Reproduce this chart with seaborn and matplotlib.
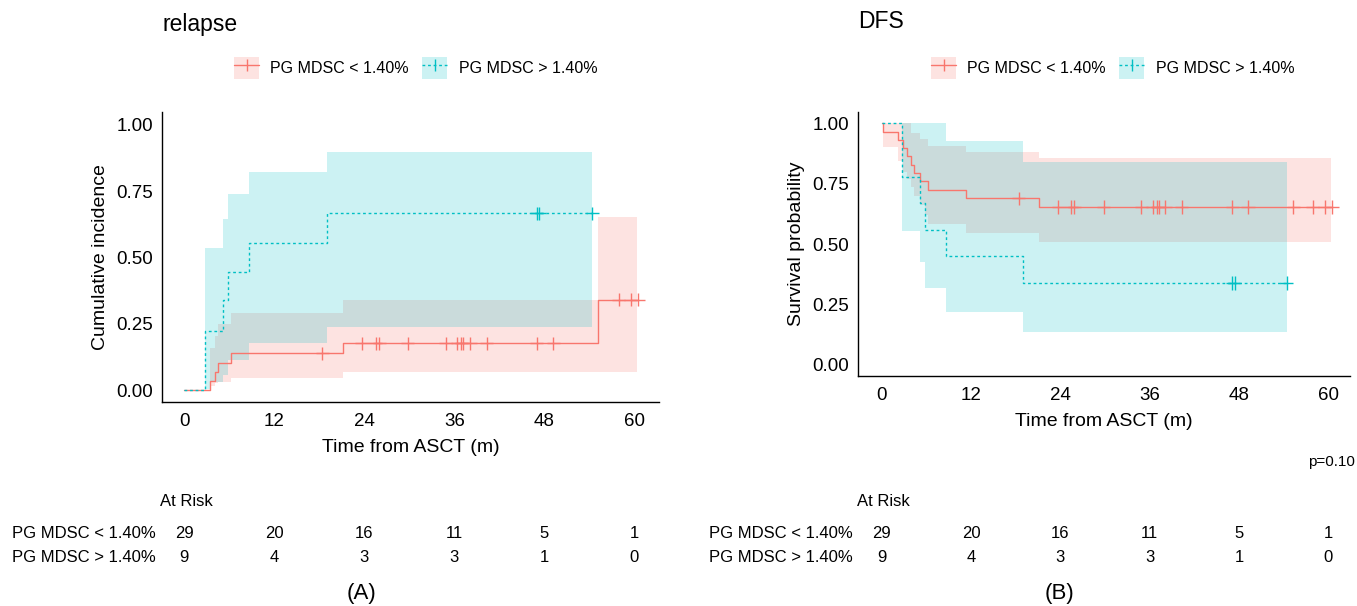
import numpy as np
import pandas as pd
import matplotlib
matplotlib.use("Agg")
import matplotlib.pyplot as plt
import matplotlib.transforms as mtransforms
from matplotlib.patches import Patch
from matplotlib.lines import Line2D
import seaborn as sns

# ---- data ----
groups = ["PG MDSC < 1.40%", "PG MDSC > 1.40%"]
colors = ["#F8766D", "#00BFC4"]

# (A) relapse, cumulative incidence
rel_low_time = [0, 3.4, 4.1, 4.5, 6.2, 21.2, 55.2, 60.5]
rel_low_est = [0, 0.035, 0.069, 0.104, 0.139, 0.176, 0.341, 0.341]
rel_low_cens = [18.4, 23.7, 25.5, 26.0, 29.8, 34.9, 36.4, 36.9, 37.1, 38.1,
                40.3, 47.0, 49.2, 57.9, 59.5, 60.5]
rel_low_band_t = [3.4, 4.1, 4.5, 6.2, 21.2, 55.2, 60.4]
rel_low_upper = [0.157, 0.205, 0.249, 0.292, 0.340, 0.654, 0.654]
rel_low_lower = [0.015, 0.025, 0.031, 0.044, 0.069, 0.069, 0.069]

rel_high_time = [0, 2.76, 5.2, 5.88, 8.68, 19.0, 54.4]
rel_high_est = [0, 0.224, 0.34, 0.446, 0.553, 0.667, 0.667]
rel_high_cens = [47.0, 47.3, 54.4]
rel_high_band_t = [2.76, 3.43, 5.2, 5.88, 8.68, 19.0, 54.4]
rel_high_upper = [0.535, 0.535, 0.645, 0.738, 0.824, 0.897, 0.897]
rel_high_lower = [0.005, 0.031, 0.057, 0.115, 0.178, 0.239, 0.239]

# (B) DFS, survival probability
dfs_low_time = [0, 0.22, 2.23, 2.81, 3.35, 4.01, 4.37, 5.13, 6.24, 11.28, 21.2, 60.5]
dfs_low_est = [1, 0.966, 0.931, 0.899, 0.864, 0.827, 0.793, 0.761, 0.726, 0.690,
               0.654, 0.654]
dfs_low_cens = [18.4, 23.7, 25.5, 25.9, 29.8, 34.9, 36.4, 37.0, 37.2, 38.1, 40.3,
                47.1, 49.2, 55.3, 57.9, 59.5, 60.5]
dfs_low_band_t = [0, 0.22, 2.23, 2.81, 3.35, 4.01, 4.37, 5.13, 5.8, 6.24, 11.28,
                  21.2, 60.4]
dfs_low_upper = [1, 1, 1, 1, 1, 0.961, 0.961, 0.934, 0.934, 0.906, 0.882, 0.855, 0.855]
dfs_low_lower = [1, 0.902, 0.846, 0.80, 0.77, 0.735, 0.70, 0.662, 0.622, 0.585,
                 0.546, 0.508, 0.508]

dfs_high_time = [0, 2.77, 5.22, 5.89, 8.70, 19.0, 54.4]
dfs_high_est = [1, 0.777, 0.671, 0.557, 0.449, 0.339, 0.339]
dfs_high_cens = [47.1, 47.4, 54.4]
dfs_high_band_t = [2.77, 5.22, 5.89, 8.6, 19.0, 54.4]
dfs_high_upper = [1, 1, 1, 0.927, 0.841, 0.841]
dfs_high_lower = [0.553, 0.426, 0.318, 0.221, 0.138, 0.138]

risk_times = [0, 12, 24, 36, 48, 60]
risk_low = [29, 20, 16, 11, 5, 1]
risk_high = [9, 4, 3, 3, 1, 0]

x_ticks = [0, 12, 24, 36, 48, 60]
y_ticks = [0, 0.25, 0.5, 0.75, 1.0]

sns.set_style("white")
plt.rcParams["font.family"] = ["Liberation Sans", "DejaVu Sans"]
plt.rcParams["text.color"] = "black"
plt.rcParams["axes.labelcolor"] = "black"

W, H = 1357, 606
fig = plt.figure(figsize=(W / 100, H / 100), dpi=100)


def fx(px):
    return px / W


def fy(py):
    return 1 - py / H


def step_value(times, vals, t):
    i = np.searchsorted(times, t, side="right") - 1
    return vals[i]


def draw_panel(ax, curves, bands, censors, xlim, ylim, ylabel):
    for (bt, lo, hi), c in zip(bands, colors):
        ax.fill_between(bt, lo, hi, step="post", color=c, alpha=0.2, lw=0)
    frames = []
    for g, (t, v) in zip(groups, curves):
        frames.append(pd.DataFrame({"time": t, "est": v, "group": g}))
    df = pd.concat(frames, ignore_index=True)
    sns.lineplot(data=df, x="time", y="est", hue="group", style="group",
                 hue_order=groups, style_order=groups,
                 palette=dict(zip(groups, colors)),
                 dashes={groups[0]: "", groups[1]: (2, 2)},
                 estimator=None, drawstyle="steps-post", linewidth=1.0,
                 legend=False, ax=ax)
    cframes = []
    for g, (t, v), cens in zip(groups, curves, censors):
        yv = [step_value(np.array(t), np.array(v), ct) for ct in cens]
        cframes.append(pd.DataFrame({"time": cens, "est": yv, "group": g}))
    cdf = pd.concat(cframes, ignore_index=True)
    sns.scatterplot(data=cdf, x="time", y="est", hue="group", hue_order=groups,
                    palette=dict(zip(groups, colors)), marker="+", s=90,
                    linewidth=1.0, legend=False, ax=ax)
    ax.set_xlim(*xlim)
    ax.set_ylim(*ylim)
    ax.set_xticks(x_ticks)
    ax.set_yticks(y_ticks)
    ax.set_yticklabels([f"{v:.2f}" for v in y_ticks])
    ax.set_xlabel("Time from ASCT (m)", fontsize=14, labelpad=7)
    ax.set_ylabel(ylabel, fontsize=14, labelpad=5)
    sns.despine(ax=ax)
    for s in ["left", "bottom"]:
        ax.spines[s].set_linewidth(1.0)
        ax.spines[s].set_color("black")
    ax.tick_params(axis="both", labelsize=13.5, length=3.6, width=0.8,
                   color="#333333", labelcolor="black", pad=3)
    ax.tick_params(axis="x", pad=4)


def draw_legend(cx, cy):
    handles = []
    for i, c in enumerate(colors):
        patch = Patch(facecolor=c, alpha=0.2, edgecolor="none")
        line = Line2D([], [], color=c, lw=1.0, linestyle="-" if i == 0 else (0, (2, 2)),
                      marker="|", markersize=9, markeredgewidth=1.0)
        handles.append((patch, line))
    fig.legend(handles, groups, loc="center", bbox_to_anchor=(fx(cx), fy(cy)),
               ncol=2, frameon=False, fontsize=11.5, handlelength=1.6,
               handleheight=1.7, handletextpad=0.7, columnspacing=0.8)


def draw_risk(ax, label_x, atrisk_x):
    blend = mtransforms.blended_transform_factory(ax.transData, fig.transFigure)
    fig.text(fx(atrisk_x), fy(502), "At Risk", fontsize=12, va="center", ha="left")
    for row_y, g, counts in [(533, groups[0], risk_low), (557, groups[1], risk_high)]:
        fig.text(fx(label_x), fy(row_y), g, fontsize=12, va="center", ha="left")
        for t, n in zip(risk_times, counts):
            ax.text(t, fy(row_y), str(n), transform=blend, fontsize=12,
                    ha="center", va="center")


# (A) relapse
ax1 = fig.add_axes([fx(162), fy(402), fx(659 - 162), (402 - 112) / H])
draw_panel(ax1,
           [(rel_low_time, rel_low_est), (rel_high_time, rel_high_est)],
           [(rel_low_band_t, rel_low_lower, rel_low_upper),
            (rel_high_band_t, rel_high_lower, rel_high_upper)],
           [rel_low_cens, rel_high_cens],
           (-2.98, 63.3), (-0.045, 1.049), "Cumulative incidence")
fig.text(fx(162), fy(25), "relapse", fontsize=16.5, va="center", ha="left")
draw_legend(415.5, 68)
draw_risk(ax1, 12, 160)
fig.text(fx(362), fy(593), "(A)", fontsize=16, va="center", ha="center")

# (B) DFS
ax2 = fig.add_axes([fx(858), fy(376), fx(1350 - 858), (376 - 112) / H])
draw_panel(ax2,
           [(dfs_low_time, dfs_low_est), (dfs_high_time, dfs_high_est)],
           [(dfs_low_band_t, dfs_low_lower, dfs_low_upper),
            (dfs_high_band_t, dfs_high_lower, dfs_high_upper)],
           [dfs_low_cens, dfs_high_cens],
           (-3.17, 62.9), (-0.046, 1.047), "Survival probability")
fig.text(fx(858), fy(22), "DFS", fontsize=16.5, va="center", ha="left")
draw_legend(1112.5, 68)
draw_risk(ax2, 709, 857)
fig.text(fx(1355), fy(462), "p=0.10", fontsize=11, va="center", ha="right")
fig.text(fx(1060), fy(593), "(B)", fontsize=16, va="center", ha="center")

fig.savefig("out.png", dpi=100)
